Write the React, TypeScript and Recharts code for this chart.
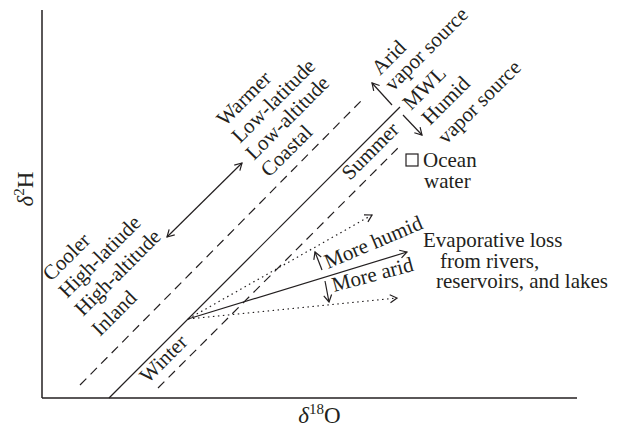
import React from 'react'
import { ComposedChart, XAxis, YAxis, Line, Scatter } from 'recharts'

const INK = '#231f20'
const FONT = '"Liberation Serif", "DejaVu Serif", serif'
const FS = 21

// schematic units (no real values on either axis)
const mwl = [{ x: 67, y: 0 }, { x: 358, y: 291 }]
const coolLine = [{ x: 38, y: 13 }, { x: 320, y: 298 }]
const warmLine = [{ x: 116, y: 10 }, { x: 356, y: 250 }]
const climateArrow = [{ x: 125, y: 161 }, { x: 200, y: 235 }]
const evapLine = [{ x: 146, y: 79 }, { x: 365, y: 146 }]
const humidEvap = [{ x: 146, y: 79 }, { x: 330, y: 183 }]
const aridEvap = [{ x: 146, y: 79 }, { x: 355, y: 100 }]
const aridShift = [{ x: 350, y: 293 }, { x: 330, y: 315 }]
const humidShift = [{ x: 361, y: 283 }, { x: 380, y: 263 }]
const moreHumidShift = [{ x: 280, y: 128 }, { x: 273, y: 146 }]
const moreAridShift = [{ x: 283, y: 117 }, { x: 287, y: 96 }]
const ocean = [{ x: 370, y: 238 }]

const notes = [
  { x: 183, y: 271, text: 'Warmer', angle: -45 },
  { x: 198, y: 254, text: 'Low-latitude', angle: -45 },
  { x: 212, y: 237, text: 'Low-altitude', angle: -45 },
  { x: 227, y: 220, text: 'Coastal', angle: -45 },
  { x: 9, y: 116, text: 'Cooler', angle: -45 },
  { x: 25, y: 99, text: 'High-latiude', angle: -45 },
  { x: 41, y: 81, text: 'High-altitude', angle: -45 },
  { x: 58, y: 61, text: 'Inland', angle: -45 },
  { x: 338, y: 322, text: 'Arid', angle: -45 },
  { x: 351, y: 306, text: 'vapor source', angle: -45 },
  { x: 369, y: 287, text: 'MWL', angle: -45 },
  { x: 388, y: 272, text: 'Humid', angle: -45 },
  { x: 404, y: 253, text: 'vapor source', angle: -45 },
  { x: 308, y: 217, text: 'Summer', angle: -45 },
  { x: 106, y: 14, text: 'Winter', angle: -45 },
  { x: 286, y: 129, text: 'More humid', angle: -23 },
  { x: 292, y: 106, text: 'More arid', angle: -15 },
  { x: 381, y: 151, text: 'Evaporative loss', angle: 0 },
  { x: 398, y: 130, text: 'from rivers,', angle: 0 },
  { x: 394, y: 110, text: 'reservoirs, and lakes', angle: 0 },
  { x: 381, y: 231, text: 'Ocean', angle: 0 },
  { x: 382, y: 210, text: 'water', angle: 0 },
]

type Pt = { x: number; y: number }

const head = (tx: number, ty: number, fx: number, fy: number, key: string) => {
  const a = Math.atan2(ty - fy, tx - fx)
  const len = 8
  const s = 0.52
  const p1 = `${tx - len * Math.cos(a - s)},${ty - len * Math.sin(a - s)}`
  const p2 = `${tx - len * Math.cos(a + s)},${ty - len * Math.sin(a + s)}`
  return (
    <polyline
      key={key}
      points={`${p1} ${tx},${ty} ${p2}`}
      fill="none"
      stroke={INK}
      strokeWidth={1.2}
      strokeDasharray="none"
    />
  )
}

// x and y use the same px per unit, so the screen direction is the data direction with y flipped
const arrowDot = (seg: Pt[], both = false) => (props: any) => {
  const { cx, cy, index } = props
  const key = `h-${index}`
  const last = seg.length - 1
  if (index === last || (both && index === 0)) {
    const me = seg[index]
    const other = index === 0 ? seg[1] : seg[last - 1]
    return head(cx, cy, cx - (me.x - other.x), cy + (me.y - other.y), key)
  }
  return <g key={key} />
}

const renderNote = (p: any) => {
  const n = p.payload
  return (
    <text
      x={p.cx}
      y={p.cy}
      transform={n.angle ? `rotate(${n.angle} ${p.cx} ${p.cy})` : undefined}
      fontFamily={FONT}
      fontSize={FS}
      fill={INK}
    >
      {n.text}
    </text>
  )
}

const renderBox = (p: any) => (
  <rect x={p.cx - 6} y={p.cy - 6} width={12} height={12} fill="none" stroke={INK} strokeWidth={1.2} />
)

const xLabel = (props: any) => {
  const vb = props.viewBox
  return (
    <text x={vb.x + vb.width / 2 + 10} y={vb.y + 25} textAnchor="middle" fontFamily={FONT} fontSize={23} fill={INK}>
      <tspan fontStyle="italic">δ</tspan>
      <tspan dy={-9} fontSize={15}>18</tspan>
      <tspan dy={9}>O</tspan>
    </text>
  )
}

const yLabel = (props: any) => {
  const vb = props.viewBox
  const x = vb.x + 33
  const y = 189
  return (
    <text x={x} y={y} transform={`rotate(-90 ${x} ${y})`} textAnchor="middle" fontFamily={FONT} fontSize={23} fill={INK}>
      <tspan fontStyle="italic">δ</tspan>
      <tspan dy={-9} fontSize={15}>2</tspan>
      <tspan dy={9}>H</tspan>
    </text>
  )
}

export default function App() {
  const line = (seg: Pt[], dash?: string, both = false, arrow = true) => (
    <Line
      data={seg}
      dataKey="y"
      type="linear"
      stroke={INK}
      strokeWidth={1.2}
      strokeDasharray={dash}
      dot={arrow ? arrowDot(seg, both) : false}
      activeDot={false}
      isAnimationActive={false}
      legendType="none"
    />
  )
  return (
    <div style={{ position: 'absolute', left: 0, top: 0 }}>
      <ComposedChart width={620} height={431} margin={{ top: 10, right: 43, bottom: 0, left: 0 }}>
        <XAxis
          type="number"
          dataKey="x"
          domain={[0, 535]}
          tick={false}
          tickLine={false}
          axisLine={{ stroke: INK, strokeWidth: 1.5 }}
          height={33}
          label={{ content: xLabel }}
        />
        <YAxis
          type="number"
          dataKey="y"
          domain={[0, 388]}
          tick={false}
          tickLine={false}
          axisLine={{ stroke: INK, strokeWidth: 1.5 }}
          width={42}
          label={{ content: yLabel }}
        />
        {line(mwl, undefined, false, false)}
        {line(coolLine, '9 6', false, false)}
        {line(warmLine, '9 6', false, false)}
        {line(climateArrow, undefined, true)}
        {line(evapLine)}
        {line(humidEvap, '1.5 3.5')}
        {line(aridEvap, '1.5 3.5')}
        {line(aridShift)}
        {line(humidShift)}
        {line(moreHumidShift)}
        {line(moreAridShift)}
        <Scatter data={ocean} shape={renderBox} isAnimationActive={false} legendType="none" />
        <Scatter data={notes} shape={renderNote} isAnimationActive={false} legendType="none" />
      </ComposedChart>
    </div>
  )
}
